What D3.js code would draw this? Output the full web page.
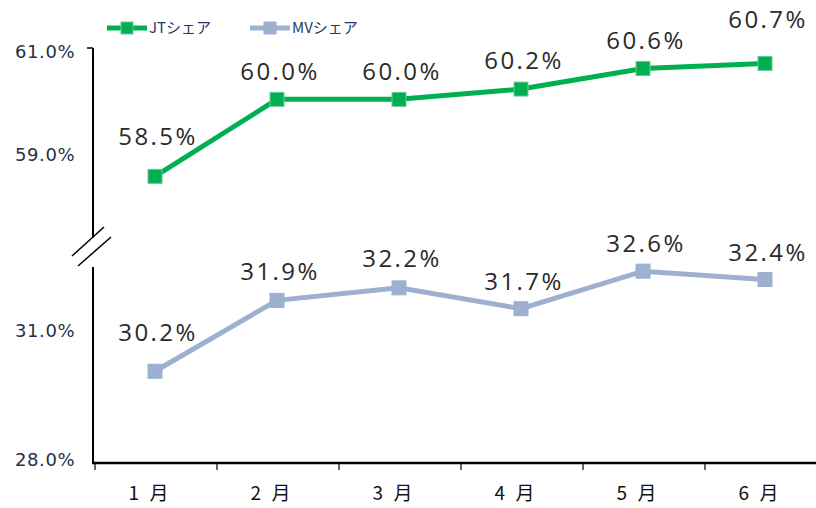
<!DOCTYPE html>
<html>
<head>
<meta charset="utf-8">
<script src="https://d3js.org/d3.v7.min.js"></script>
<style>
  body { margin: 0; background: #fff; }
  .ylab { font-family: "DejaVu Sans", Verdana, sans-serif; font-size: 18px; fill: #27304a; letter-spacing: 0.6px; }
  .xlab { font-family: "Noto Sans CJK JP", sans-serif; font-size: 19px; font-weight: 400; fill: #111; white-space: pre; letter-spacing: 3px; }
  .vlab { font-family: "Open Sans", sans-serif; font-size: 24px; font-weight: 400; fill: #2a2a2a; letter-spacing: 2.4px; }
  .legend { font-family: "Noto Sans CJK JP", sans-serif; font-size: 15px; fill: #1f3864; }
</style>
</head>
<body>
<div id="chart"></div>
<script>
(function(d3) {
  'use strict';

  var months = ['1 月', '2 月', '3 月', '4 月', '5 月', '6 月'];
  var jtShare = [58.5, 60.0, 60.0, 60.2, 60.6, 60.7];
  var mvShare = [30.2, 31.9, 32.2, 31.7, 32.6, 32.4];
  var topTicks = [59.0, 61.0];
  var bottomTicks = [28.0, 31.0];
  var seriesNames = ['JTシェア', 'MVシェア'];

  var width = 816, height = 508;
  var green = '#00b050', blue = '#9db0d0';

  var svg = d3.select('#chart').append('svg')
    .attr('width', width)
    .attr('height', height);

  var x = d3.scaleBand().domain(months).range([94, 826]);
  var yTop = d3.scaleLinear().domain([57.3, 61]).range([238, 48]);
  var yBot = d3.scaleLinear().domain([28, 32.7]).range([463, 267]);

  function cx(d, i) { return x(months[i]) + x.bandwidth() / 2; }

  // y axis, two pieces with a break between
  svg.append('line').attr('x1', 93).attr('x2', 93)
    .attr('y1', yTop(61)).attr('y2', yTop.range()[0])
    .attr('stroke', '#000').attr('stroke-width', 2);
  svg.append('line').attr('x1', 93).attr('x2', 93)
    .attr('y1', yBot.range()[1]).attr('y2', yBot(28))
    .attr('stroke', '#000').attr('stroke-width', 2);
  svg.append('line').attr('x1', 87).attr('x2', 93)
    .attr('y1', yTop(61)).attr('y2', yTop(61))
    .attr('stroke', '#000').attr('stroke-width', 1.5);

  // break marks
  [[72, 256, 104, 227], [78, 266, 111, 237]].forEach(function(b) {
    svg.append('line').attr('x1', b[0]).attr('y1', b[1]).attr('x2', b[2]).attr('y2', b[3])
      .attr('stroke', '#000').attr('stroke-width', 1.5);
  });

  svg.selectAll('.ytop').data(topTicks).enter().append('text')
    .attr('class', 'ylab').attr('x', 15).attr('y', function(d) { return yTop(d) + 4; })
    .attr('dy', '0.35em')
    .text(function(d) { return d.toFixed(1) + '%'; });
  svg.selectAll('.ybot').data(bottomTicks).enter().append('text')
    .attr('class', 'ylab').attr('x', 15).attr('y', function(d) { return yBot(d) - (d === 28 ? 3 : 7); })
    .attr('dy', '0.35em')
    .text(function(d) { return d.toFixed(1) + '%'; });

  // x axis
  var xAxis = svg.append('g').attr('transform', 'translate(0,' + yBot(28) + ')');
  xAxis.append('line').attr('x1', 92).attr('x2', width)
    .attr('stroke', '#000').attr('stroke-width', 2.5);
  xAxis.selectAll('.tk').data(months).enter().append('line')
    .attr('x1', function(d) { return x(d) + 1; }).attr('x2', function(d) { return x(d) + 1; })
    .attr('y1', 0).attr('y2', 7)
    .attr('stroke', '#000').attr('stroke-width', 1.2);
  xAxis.selectAll('.xl').data(months).enter().append('text')
    .attr('class', 'xlab')
    .attr('x', function(d) { return x(d) + x.bandwidth() / 2 - 5; })
    .attr('y', 37)
    .attr('text-anchor', 'middle')
    .text(function(d) { return d; });

  // series
  var labelDy = [40, 28, 28, 28, 28, 44];
  var labelDyBot = [39, 29, 29, 27, 28, 27];

  function drawSeries(values, y, color, border, dys) {
    var line = d3.line().x(cx).y(function(d) { return y(d); });
    svg.append('path').datum(values)
      .attr('d', line)
      .attr('fill', 'none')
      .attr('stroke', color)
      .attr('stroke-width', 5);
    svg.selectAll(null).data(values).enter().append('rect')
      .attr('x', function(d, i) { return cx(d, i) - 7; })
      .attr('y', function(d) { return y(d) - 7; })
      .attr('width', 14).attr('height', 14)
      .attr('fill', color)
      .attr('stroke', border).attr('stroke-width', 1);
    svg.selectAll(null).data(values).enter().append('text')
      .attr('class', 'vlab')
      .attr('x', function(d, i) { return cx(d, i) + 3; })
      .attr('y', function(d, i) { return y(d) - dys[i]; })
      .attr('dy', '0.35em')
      .attr('text-anchor', 'middle')
      .text(function(d) { return d.toFixed(1) + '%'; });
  }

  drawSeries(jtShare, yTop, green, '#6cc79a', labelDy);
  drawSeries(mvShare, yBot, blue, blue, labelDyBot);

  // legend
  var legend = svg.selectAll('.legend-item').data(seriesNames).enter().append('g')
    .attr('transform', function(d, i) { return 'translate(' + (107 + i * 143) + ',28)'; });
  legend.append('line').attr('x1', 0).attr('x2', 40)
    .attr('stroke', function(d, i) { return i === 0 ? green : blue; })
    .attr('stroke-width', 5);
  legend.append('rect').attr('x', 14).attr('y', -6).attr('width', 12).attr('height', 12)
    .attr('fill', function(d, i) { return i === 0 ? green : blue; })
    .attr('stroke', function(d, i) { return i === 0 ? '#6cc79a' : blue; });
  legend.append('text').attr('class', 'legend')
    .attr('x', 42).attr('dy', '0.35em')
    .text(function(d) { return d; });

})(window.d3);
</script>
</body>
</html>
